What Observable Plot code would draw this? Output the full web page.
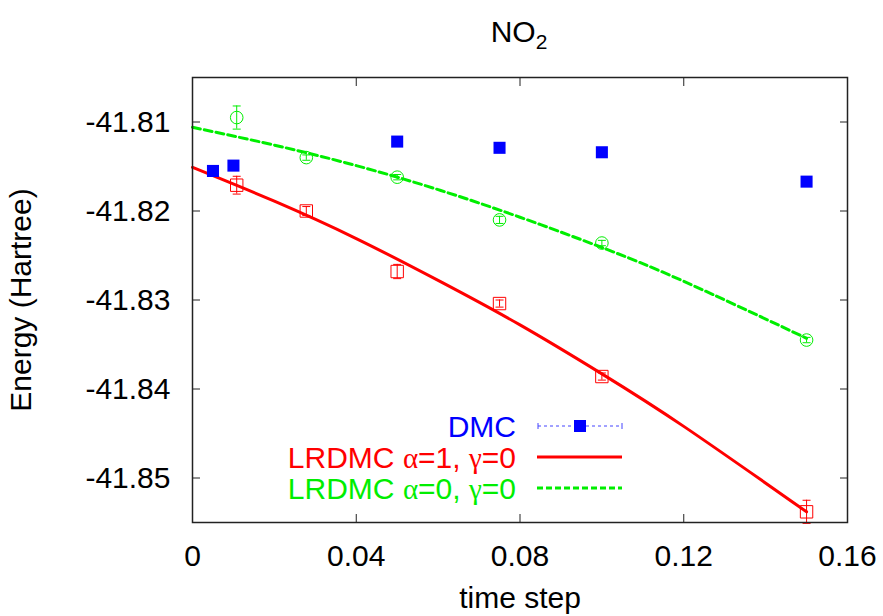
<!DOCTYPE html>
<html><head><meta charset="utf-8">
<script src="https://cdn.jsdelivr.net/npm/d3@7"></script>
<script src="https://cdn.jsdelivr.net/npm/@observablehq/plot@0.6"></script>
<style>
body{margin:0;background:#fff;font-family:"Liberation Sans",Arial,sans-serif;}
#wrap{position:relative;width:883px;height:616px;overflow:hidden;}
#title{position:relative;height:56px;width:883px;}
#title span{position:absolute;left:0;width:1038px;top:17px;text-align:center;font-size:30px;line-height:30px;}
#title sub{font-size:21px;vertical-align:-7px;line-height:0}
.leg{position:absolute;left:0;width:516px;text-align:right;font-size:30px;line-height:28px;white-space:nowrap}
.greek{font-family:"Liberation Serif","DejaVu Serif",serif;font-size:29px;line-height:28px}
.sample{position:absolute;left:537px;width:86px;height:16px;overflow:visible}
</style></head><body>
<div id="wrap"><div id="title"><span>NO<sub>2</sub></span></div><div id="chart"></div><div id="legend"></div></div>
<script>
const xTicks = [0, 0.04, 0.08, 0.12, 0.16];
const xTickLabels = ["0", "0.04", "0.08", "0.12", "0.16"];
const yTicks = [-41.85, -41.84, -41.83, -41.82, -41.81];
const yTickLabels = ["-41.85", "-41.84", "-41.83", "-41.82", "-41.81"];

const dmcStep = [0.005, 0.01, 0.05, 0.075, 0.1, 0.15];
const dmcEnergy = [-41.8155, -41.8149, -41.8122, -41.8129, -41.8134, -41.8167];

const lrdmcStep = [0.0108, 0.0278, 0.05, 0.075, 0.1, 0.15];
const lrdmcA1Energy = [-41.8171, -41.8200, -41.8268, -41.8304, -41.8386, -41.8538];
const lrdmcA1Err = [0.0010, 0.0005, 0.0008, 0.0004, 0.0004, 0.0013];
const lrdmcA0Energy = [-41.8095, -41.8140, -41.8162, -41.8210, -41.8236, -41.8345];
const lrdmcA0Err = [0.0013, 0.0003, 0.0003, 0.0004, 0.0003, 0.0003];

const fitStep = [0, 0.02, 0.04, 0.06, 0.08, 0.10, 0.12, 0.15];
const fitA1 = [-41.8151, -41.8189, -41.8231, -41.8278, -41.8328, -41.8383, -41.8442, -41.8538];
const fitA0 = [-41.8106, -41.8126, -41.8149, -41.8176, -41.8207, -41.8241, -41.8279, -41.8343];

const legendLabels = ["DMC", "LRDMC α=1, γ=0", "LRDMC α=0, γ=0"];
const seriesColors = ["#0000ff", "#ff0000", "#00ee00"];

const dmc = dmcStep.map((x, i) => ({x, y: dmcEnergy[i]}));
const a1 = lrdmcStep.map((x, i) => ({x, y: lrdmcA1Energy[i], e: lrdmcA1Err[i]}));
const a0 = lrdmcStep.map((x, i) => ({x, y: lrdmcA0Energy[i], e: lrdmcA0Err[i]}));
const fit1 = fitStep.map((x, i) => ({x, y: fitA1[i]}));
const fit0 = fitStep.map((x, i) => ({x, y: fitA0[i]}));

const cap = {draw(ctx) { ctx.moveTo(-4, 0); ctx.lineTo(4, 0); }};
const FONT = "Liberation Sans, Arial, sans-serif";

function errMarks(data, color) {
  return [
    Plot.ruleX(data, {x: "x", y1: d => d.y - d.e, y2: d => d.y + d.e, stroke: color, strokeWidth: 1}),
    Plot.dot(data, {x: "x", y: d => d.y + d.e, symbol: cap, stroke: color, strokeWidth: 1}),
    Plot.dot(data, {x: "x", y: d => d.y - d.e, symbol: cap, stroke: color, strokeWidth: 1})
  ];
}

const chart = Plot.plot({
  width: 883,
  height: 560,
  marginTop: 21,
  marginBottom: 94,
  marginLeft: 192,
  marginRight: 36,
  style: {fontFamily: FONT, fontSize: "30px", background: "white", color: "#000", overflow: "visible"},
  x: {domain: [0, 0.16]},
  y: {domain: [-41.855, -41.805]},
  marks: [
    Plot.line(fit1, {x: "x", y: "y", stroke: seriesColors[1], strokeWidth: 3, curve: "natural"}),
    Plot.line(fit0, {x: "x", y: "y", stroke: seriesColors[2], strokeWidth: 3, strokeDasharray: "8,4", curve: "natural"}),
    ...errMarks(a1, seriesColors[1]),
    ...errMarks(a0, seriesColors[2]),
    Plot.dot(a1, {x: "x", y: "y", symbol: "square", r: 7, stroke: seriesColors[1], strokeWidth: 1, fill: "none"}),
    Plot.dot(a0, {x: "x", y: "y", symbol: "circle", r: 6.3, stroke: seriesColors[2], strokeWidth: 1, fill: "none"}),
    Plot.dot(dmc, {x: "x", y: "y", symbol: "square", r: 6.8, fill: seriesColors[0], stroke: "none"}),
    Plot.axisX({ticks: xTicks, tickSize: 0, tickPadding: 22, fontSize: 30, tickFormat: d => xTickLabels[xTicks.indexOf(d)], label: "time step", labelAnchor: "center", labelOffset: 85, labelArrow: "none"}),
    Plot.axisX({ticks: xTicks, tickSize: -8, tickFormat: () => "", label: null, stroke: "#222"}),
    Plot.axisX({anchor: "top", ticks: xTicks, tickSize: -8, tickFormat: () => "", label: null, stroke: "#222"}),
    Plot.axisY({ticks: yTicks, tickSize: 0, tickPadding: 22, fontSize: 30, tickFormat: d => yTickLabels[yTicks.findIndex(t => Math.abs(t - d) < 1e-9)], label: "Energy (Hartree)", labelAnchor: "center", labelOffset: 183, labelArrow: "none"}),
    Plot.axisY({ticks: yTicks, tickSize: -8, tickFormat: () => "", label: null, stroke: "#222"}),
    Plot.axisY({anchor: "right", ticks: yTicks, tickSize: -8, tickFormat: () => "", label: null, stroke: "#222"}),
    Plot.frame({stroke: "#222", strokeWidth: 1.5})
  ]
});
document.getElementById("chart").appendChild(chart);

// legend overlay
const legend = document.getElementById("legend");
const rowBaselines = [437, 468, 499];
legendLabels.forEach((lab, i) => {
  const div = document.createElement("div");
  div.className = "leg";
  div.style.top = (rowBaselines[i] - 24) + "px";
  div.style.color = seriesColors[i];
  div.innerHTML = lab.replace(/([αγ])/g, '<span class="greek">$1</span>');
  legend.appendChild(div);
  const ns = "http://www.w3.org/2000/svg";
  const svg = document.createElementNS(ns, "svg");
  svg.setAttribute("class", "sample");
  svg.setAttribute("width", 86);
  svg.setAttribute("height", 16);
  svg.style.top = (rowBaselines[i] - 11 - 8) + "px";
  let html = "";
  if (i === 0) {
    html = `<line x1="1" x2="85" y1="8" y2="8" stroke="#4444ff" stroke-width="1" stroke-dasharray="3,3"/>
            <line x1="1" x2="1" y1="5" y2="11" stroke="#4444ff" stroke-width="1"/>
            <line x1="85" x2="85" y1="5" y2="11" stroke="#4444ff" stroke-width="1"/>
            <rect x="37" y="2" width="12" height="12" fill="#0000ff"/>`;
  } else if (i === 1) {
    html = `<line x1="0" x2="85" y1="8" y2="8" stroke="${seriesColors[1]}" stroke-width="3"/>`;
  } else {
    html = `<line x1="0" x2="85" y1="8" y2="8" stroke="${seriesColors[2]}" stroke-width="3" stroke-dasharray="6,3"/>`;
  }
  svg.innerHTML = html;
  legend.appendChild(svg);
});
</script>
</body></html>
